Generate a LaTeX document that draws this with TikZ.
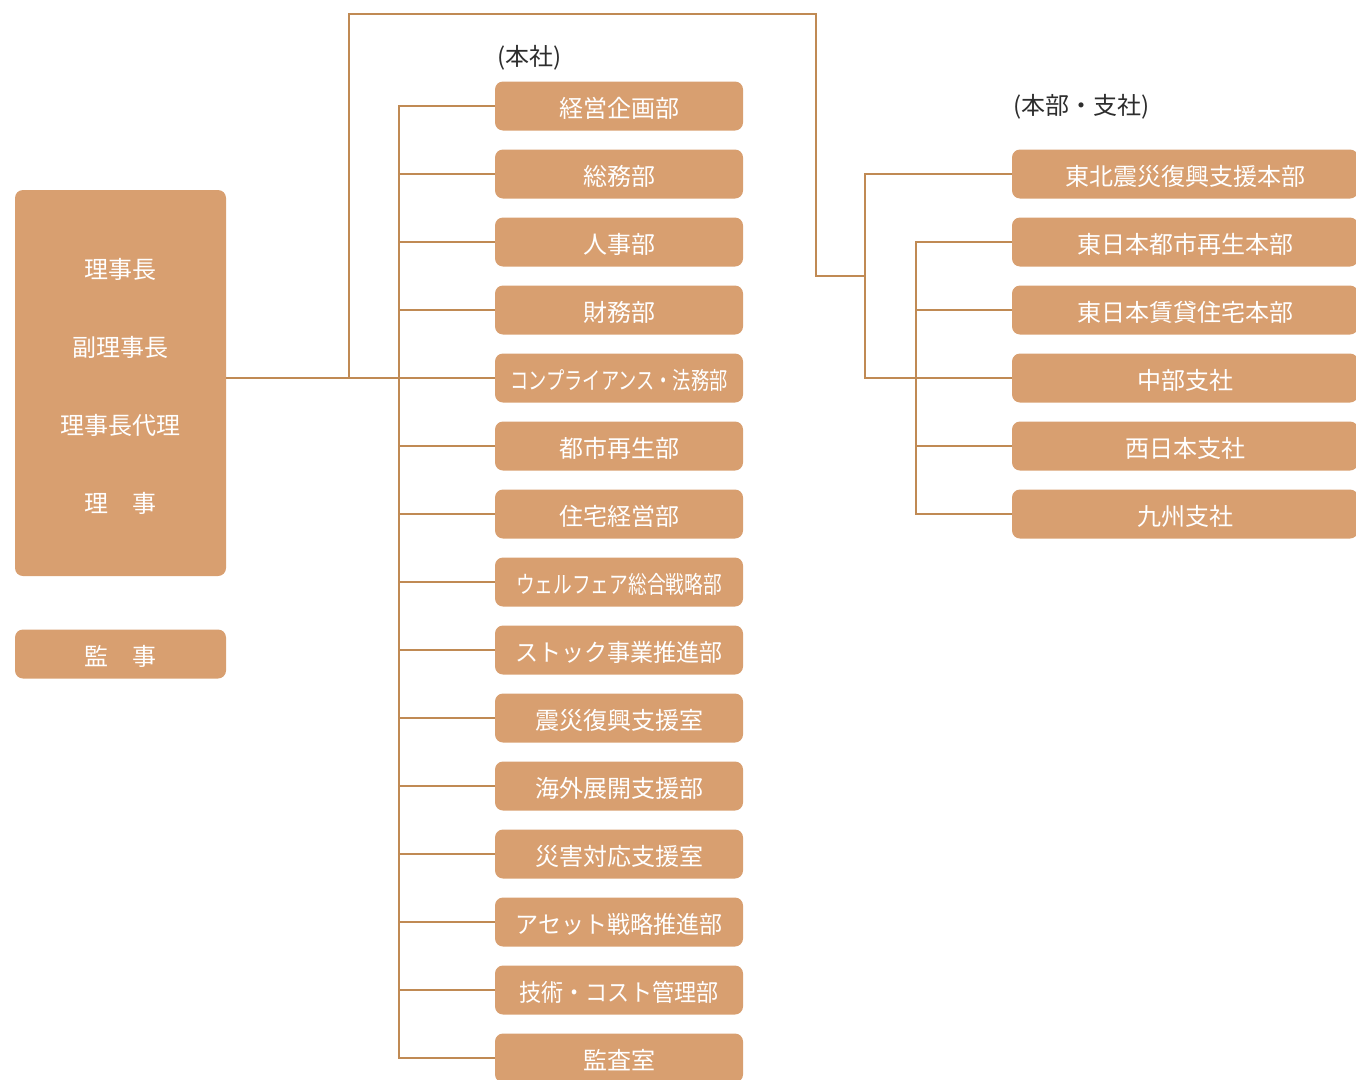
\documentclass[tikz,border=0pt]{standalone}
\usepackage{fontspec}
\usepackage{graphicx}
\newfontfamily\jp{Noto Sans CJK JP}
\definecolor{orgfill}{RGB}{216,159,112}
\definecolor{orgedge}{RGB}{192,138,84}
\definecolor{orgtext}{RGB}{45,45,45}
\tikzset{
orgbox/.style={fill=orgfill,rounded corners=8pt,text=white,inner sep=0pt,font=\jp\fontsize{24}{28}\selectfont},
rowbox/.style={orgbox,minimum height=49pt,text height=24pt,text depth=2pt},
link/.style={draw=orgedge,line width=2pt},
grouplabel/.style={anchor=west,inner sep=0pt,text=orgtext,font=\jp\fontsize{24}{28}\selectfont}
}
\begin{document}
\begin{tikzpicture}[x=1pt,y=-1pt]
\useasboundingbox (0,0) rectangle (1356,1079);
\pgfmathsetmacro{\kstep}{68}
\node[orgbox,minimum width=211pt,minimum height=386pt,align=center,font=\jp\fontsize{24}{77.7}\selectfont] (board) at (120.5,383) {\rule{0pt}{27pt}理事長\\副理事長\\理事長代理\\理　事};
\node[rowbox,minimum width=211pt] (audit) at (120.5,654) {監　事};
\node[grouplabel] (hqlabel) at (497,58) {(本社)};
\node[grouplabel] (brlabel) at (1013,107) {(本部・支社)};
\foreach \i/\t/\s in {1/経営企画部/1,2/総務部/1,3/人事部/1,4/財務部/1,5/コンプライアンス・法務部/0.76,6/都市再生部/1,7/住宅経営部/1,8/ウェルフェア総合戦略部/0.78,9/ストック事業推進部/0.96,10/震災復興支援室/1,11/海外展開支援部/1,12/災害対応支援室/1,13/アセット戦略推進部/0.96,14/技術・コスト管理部/0.92,15/監査室/1}{
\node[rowbox,minimum width=248pt] (h\i) at (619,{106+(\i-1)*\kstep}) {\scalebox{\s}[1]{\t}};
}
\foreach \i/\t in {1/東北震災復興支援本部,2/東日本都市再生本部,3/東日本賃貸住宅本部,4/中部支社,5/西日本支社,6/九州支社}{
\node[rowbox,minimum width=346pt] (r\i) at (1185,{174+(\i-1)*\kstep}) {\t};
}
\coordinate (turn) at (349,0);
\coordinate (top) at (816,14);
\coordinate (hsp) at (399,0);
\coordinate (bsp) at (865,276);
\coordinate (csp) at (916,0);
\draw[link] (board.east |- h5.west) -- (h5.west);
\draw[link] (turn |- h5.west) |- (top) |- (bsp);
\draw[link] (h1.west) -| (hsp |- h15.west) -- (h15.west);
\foreach \i in {2,...,14}{\draw[link] (hsp |- h\i.west) -- (h\i.west);}
\draw[link] (r1.west) -| (bsp |- r4.west) -- (r4.west);
\draw[link] (r2.west) -| (csp |- r6.west) -- (r6.west);
\foreach \i in {3,4,5}{\draw[link] (csp |- r\i.west) -- (r\i.west);}
\end{tikzpicture}
\end{document}
